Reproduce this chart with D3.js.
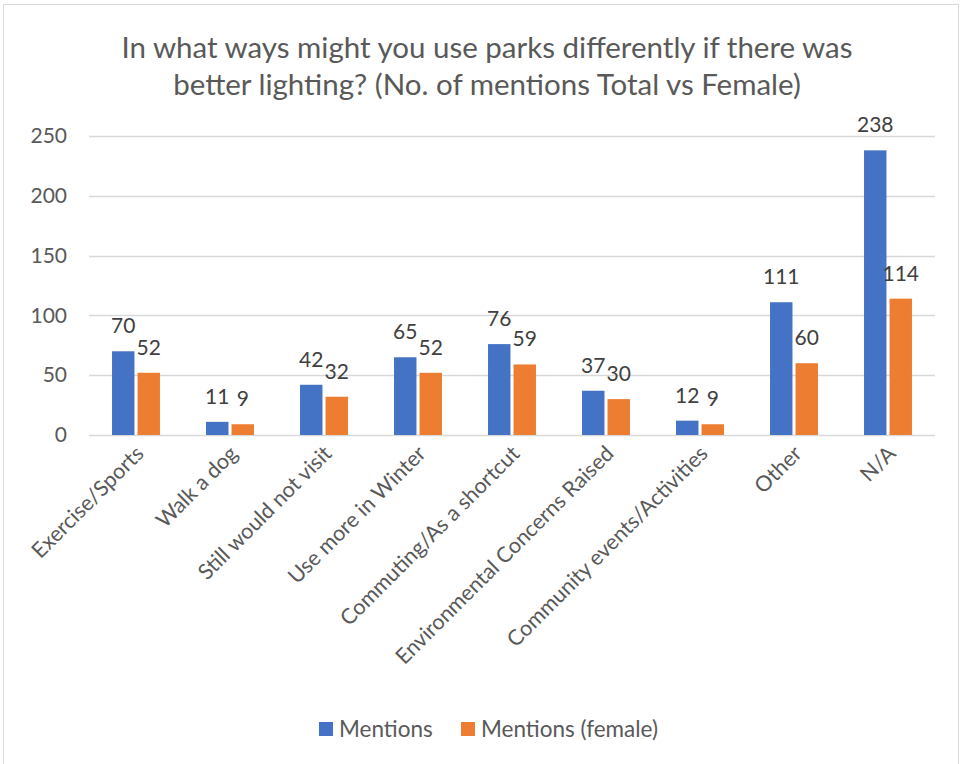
<!DOCTYPE html>
<html>
<head>
<meta charset="utf-8">
<script src="https://cdn.jsdelivr.net/npm/d3@7"></script>
<style>
  body { margin: 0; background: #fff; }
  svg { display: block; font-family: Lato, "Open Sans", sans-serif; }
</style>
</head>
<body>
<div id="chart"></div>
<script>
// bar chart: park use with better lighting

const categories = [
  "Exercise/Sports", "Walk a dog", "Still would not visit", "Use more in Winter",
  "Commuting/As a shortcut", "Environmental Concerns Raised",
  "Community events/Activities", "Other", "N/A"
];
const mentions = [70, 11, 42, 65, 76, 37, 12, 111, 238];
const mentionsFemale = [52, 9, 32, 52, 59, 30, 9, 60, 114];
const seriesNames = ["Mentions", "Mentions (female)"];
const yTicks = [0, 50, 100, 150, 200, 250];

const colors = ["#4472C4", "#ED7D31"];
const width = 965, height = 764;

const svg = d3.select("#chart").append("svg")
  .attr("width", width)
  .attr("height", height);

// chart frame
svg.append("rect")
  .attr("x", 3.5).attr("y", 4.5)
  .attr("width", 955).attr("height", 770)
  .attr("fill", "none")
  .attr("stroke", "#d9d9d9");

const plot = { left: 89, right: 935, top: 136, bottom: 435 };

const x = d3.scaleBand()
  .domain(categories)
  .range([plot.left, plot.right])
  .paddingInner(0.49)
  .paddingOuter(0.245);

const xs = d3.scaleBand()
  .domain([0, 1])
  .range([0, x.bandwidth()])
  .paddingInner(0.12);

const y = d3.scaleLinear()
  .domain([0, 250])
  .range([plot.bottom, plot.top]);

// gridlines
svg.append("g")
  .selectAll("line")
  .data(yTicks)
  .join("line")
  .attr("x1", plot.left).attr("x2", plot.right)
  .attr("y1", d => Math.round(y(d)) + 0.5)
  .attr("y2", d => Math.round(y(d)) + 0.5)
  .attr("stroke", "#d9d9d9")
  .attr("stroke-width", 1.5);

// y axis labels
const yAxis = svg.append("g")
  .attr("transform", `translate(${plot.left}, 0)`)
  .call(d3.axisLeft(y).tickValues(yTicks).tickSize(0).tickPadding(22));
yAxis.select(".domain").remove();
yAxis.selectAll("text")
  .style("font-family", "Lato, sans-serif")
  .style("font-size", "21px")
  .style("fill", "#595959");

// bars
const rows = categories.map((c, i) => ({ cat: c, vals: [mentions[i], mentionsFemale[i]] }));

const groups = svg.append("g")
  .selectAll("g")
  .data(rows)
  .join("g")
  .attr("transform", d => `translate(${x(d.cat)}, 0)`);

groups.selectAll("rect")
  .data(d => d.vals.map((v, k) => ({ v, k })))
  .join("rect")
  .attr("x", d => xs(d.k))
  .attr("y", d => y(d.v))
  .attr("width", xs.bandwidth())
  .attr("height", d => y(0) - y(d.v))
  .attr("fill", d => colors[d.k]);

groups.selectAll("text")
  .data(d => d.vals.map((v, k) => ({ v, k })))
  .join("text")
  .attr("x", d => xs(d.k) + xs.bandwidth() / 2)
  .attr("y", d => y(d.v) - 18)
  .attr("text-anchor", "middle")
  .style("font-size", "21px")
  .style("fill", "#404040")
  .text(d => d.v);

// category labels
svg.append("g")
  .selectAll("text")
  .data(categories)
  .join("text")
  .attr("transform", d => `translate(${x(d) + x.bandwidth() / 2 + 9}, ${plot.bottom + 20}) rotate(-45)`)
  .attr("text-anchor", "end")
  .style("font-size", "21.5px")
  .style("fill", "#595959")
  .text(d => d);

// title
svg.append("text")
  .attr("x", 487)
  .attr("text-anchor", "middle")
  .style("font-size", "29.5px")
  .style("fill", "#595959")
  .selectAll("tspan")
  .data(["In what ways might you use parks differently if there was",
         "better lighting? (No. of mentions Total vs Female)"])
  .join("tspan")
  .attr("x", 487)
  .attr("y", (d, i) => 58 + i * 37)
  .text(d => d);

// legend
const legendX = [319, 461];
const legend = svg.append("g")
  .selectAll("g")
  .data(seriesNames)
  .join("g")
  .attr("transform", (d, i) => `translate(${legendX[i]}, 722)`);

legend.append("rect")
  .attr("width", 14).attr("height", 14)
  .attr("fill", (d, i) => colors[i]);

legend.append("text")
  .attr("x", 20)
  .attr("y", 15)
  .style("font-size", "22.5px")
  .style("fill", "#595959")
  .text(d => d);
</script>
</body>
</html>
